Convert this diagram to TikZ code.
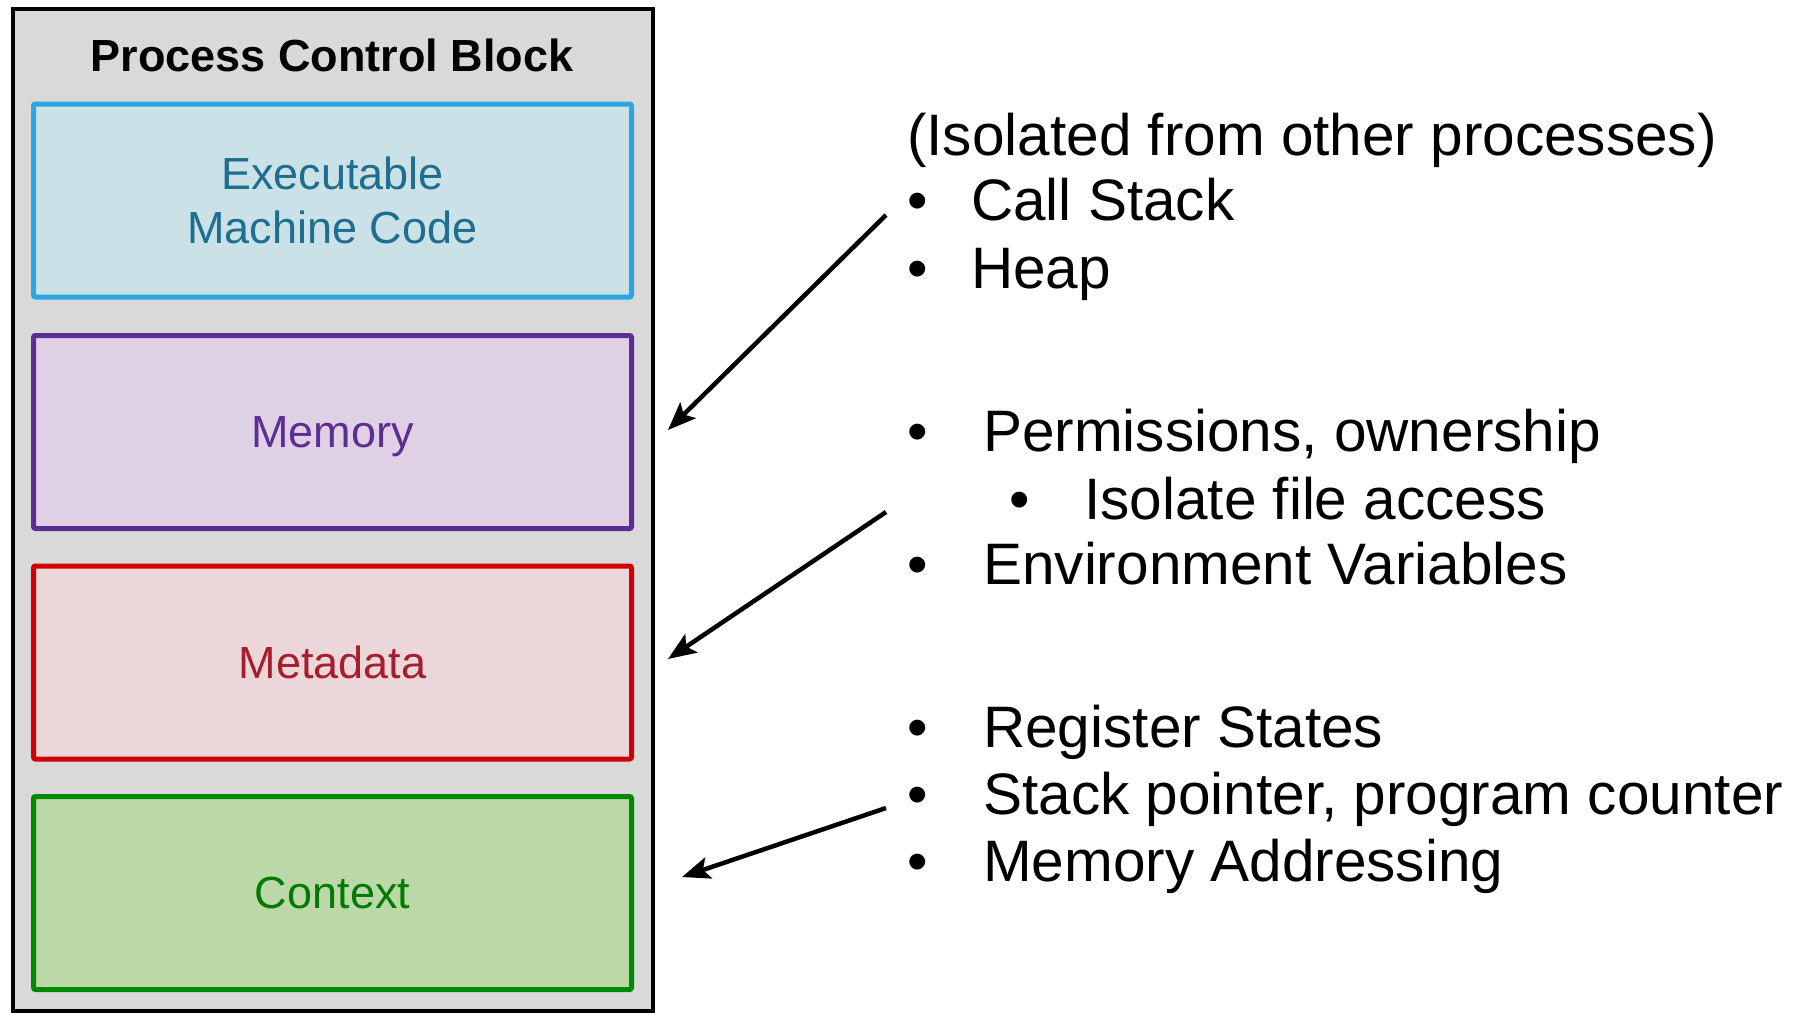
\documentclass[tikz,border=0pt]{standalone}
\usepackage{fontspec}
\setmainfont{Liberation Sans}
\usetikzlibrary{arrows.meta}
\definecolor{outerfill}{HTML}{D9D9D9}
\definecolor{exborder}{HTML}{2AA7E0}
\definecolor{exfill}{HTML}{CBE1E8}
\definecolor{extext}{HTML}{1F6E8F}
\definecolor{meborder}{HTML}{5E2D91}
\definecolor{mefill}{HTML}{DFD0E6}
\definecolor{metext}{HTML}{5E2D91}
\definecolor{mdborder}{HTML}{D10000}
\definecolor{mdfill}{HTML}{EBD7DA}
\definecolor{mdtext}{HTML}{A61E2E}
\definecolor{ctborder}{HTML}{008A00}
\definecolor{ctfill}{HTML}{BDD8A8}
\definecolor{cttext}{HTML}{007A00}
\begin{document}
\begin{tikzpicture}[x=1pt,y=-1pt,
  outerbox/.style={draw=black, line width=4pt, fill=outerfill, minimum width=640pt, minimum height=1002pt, inner sep=0pt},
  part/.style={line width=5pt, rounded corners=2pt, minimum width=598pt, minimum height=193pt, inner sep=0pt, align=center, font=\fontsize{45}{54}\selectfont},
  titletext/.style={font=\fontsize{45}{54}\selectfont\bfseries, inner sep=0pt},
  item/.style={anchor=base west, inner sep=0pt, font=\fontsize{58.5}{67}\selectfont},
  arr/.style={line width=4.5pt, -{Stealth[length=28pt,width=22pt,inset=6pt]}}
]
\useasboundingbox (0,0) rectangle (1807,1013);
\fill[white] (0,0) rectangle (1807,1013);
\node[outerbox] (pcb) at (332.5,510) {};
\node[titletext] (title) at (332,55) {Process Control Block};
\node[part, draw=exborder, fill=exfill, text=extext] (exec) at (332.5,200.5) {Executable\\Machine Code};
\node[part, draw=meborder, fill=mefill, text=metext] (mem) at (332.5,432) {\smash{Memory}\vphantom{M}};
\node[part, draw=mdborder, fill=mdfill, text=mdtext] (meta) at (332.5,662.5) {Metadata};
\node[part, draw=ctborder, fill=ctfill, text=cttext] (ctx) at (332.5,893) {Context};
% right text
\node[item] (iso) at (907,155) {(Isolated from other processes)};
\node[item] (b1) at (907,220) {•};
\node[item] (t1) at (971,220) {Call Stack};
\node[item] (b2) at (907,288) {•};
\node[item] (t2) at (971,288) {Heap};
\node[item] (b3) at (907,451) {•};
\node[item] (t3) at (983,451) {Permissions, ownership};
\node[item] (b4) at (1009,519) {•};
\node[item] (t4) at (1084,519) {Isolate file access};
\node[item] (b5) at (907,584) {•};
\node[item] (t5) at (983,584) {Environment Variables};
\node[item] (b6) at (907,747) {•};
\node[item] (t6) at (983,747) {Register States};
\node[item] (b7) at (907,814) {•};
\node[item] (t7) at (983,814) {Stack pointer, program counter};
\node[item] (b8) at (907,881) {•};
\node[item] (t8) at (983,881) {Memory Addressing};
% arrows
\coordinate (s1) at (886,215);
\coordinate (e1) at (668,430);
\coordinate (s2) at (886,512);
\coordinate (e2) at (668,659);
\coordinate (s3) at (886,808);
\coordinate (e3) at (682,877);
\draw[arr] (s1) -- (e1);
\draw[arr] (s2) -- (e2);
\draw[arr] (s3) -- (e3);
\end{tikzpicture}
\end{document}
